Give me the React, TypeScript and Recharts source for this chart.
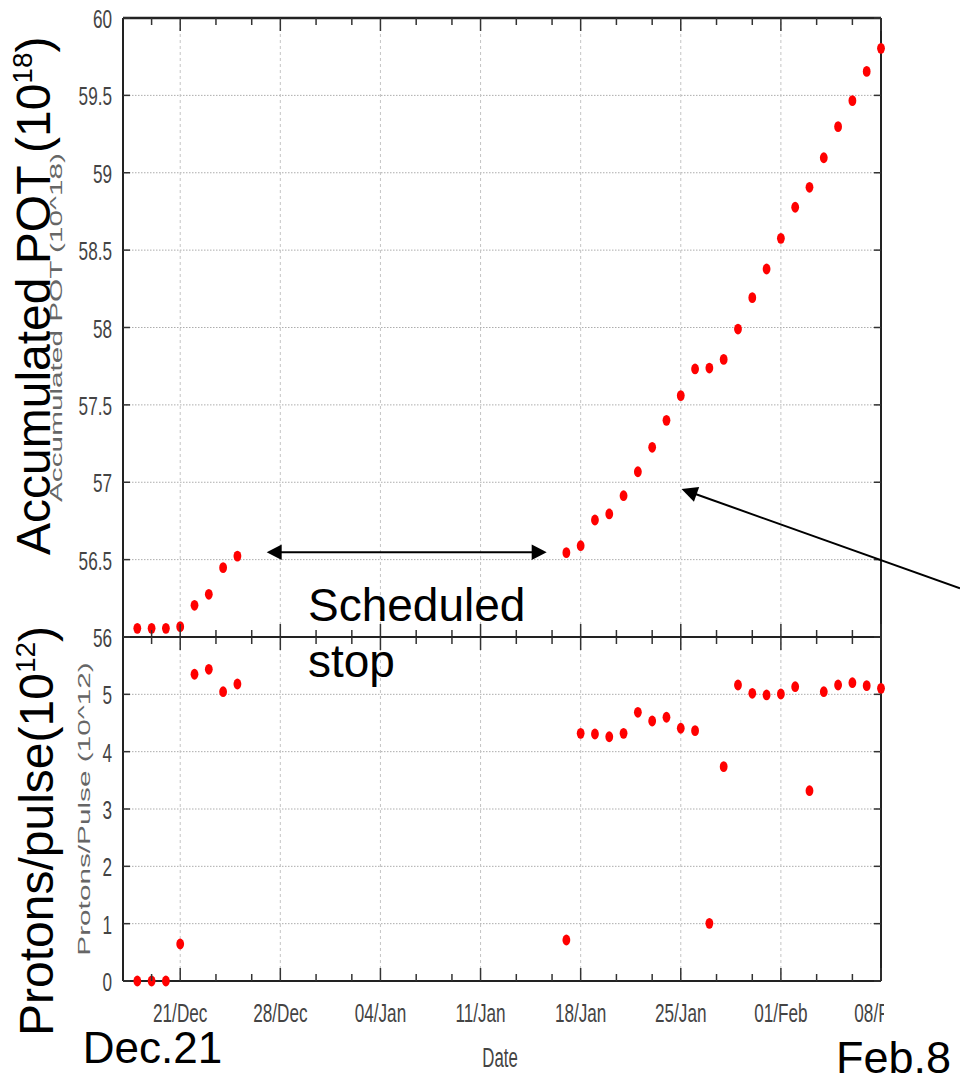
import React from 'react';
import { ScatterChart, Scatter, XAxis, YAxis, CartesianGrid, ReferenceLine } from 'recharts';

// days since 21 Dec
const dayOffsets = [-3, -2, -1, 0, 1, 2, 3, 4, 27, 28, 29, 30, 31, 32, 33, 34, 35, 36, 37, 38, 39, 40, 41, 42, 43, 44, 45, 46, 47, 48, 49];
// Accumulated POT (10^18)
const accumulatedPot = [56.056, 56.056, 56.056, 56.067, 56.205, 56.276, 56.448, 56.523, 56.545, 56.59, 56.756, 56.795, 56.913, 57.068, 57.226, 57.4, 57.56, 57.732, 57.738, 57.794, 57.99, 58.193, 58.378, 58.576, 58.777, 58.906, 59.097, 59.298, 59.466, 59.655, 59.804];
// Protons/pulse (10^12)
const protonsPerPulse = [0, 0, 0, 0.645, 5.35, 5.437, 5.046, 5.18, 0.715, 4.32, 4.308, 4.26, 4.32, 4.687, 4.535, 4.6, 4.408, 4.366, 1.006, 3.738, 5.163, 5.018, 4.989, 5.006, 5.133, 3.319, 5.046, 5.163, 5.203, 5.151, 5.105];

const xMajorTicks = [0, 7, 14, 21, 28, 35, 42, 49];
const xMinorTicks = [-2, 2.5, 5, 9.5, 12, 16.5, 19, 23.5, 26, 30.5, 33, 37.5, 40, 44.5, 47];
const xTickLabels = ['21/Dec', '28/Dec', '04/Jan', '11/Jan', '18/Jan', '25/Jan', '01/Feb', '08/Feb'];
const potTicks = [56, 56.5, 57, 57.5, 58, 58.5, 59, 59.5, 60];
const potTickLabels = ['56', '56.5', '57', '57.5', '58', '58.5', '59', '59.5', '60'];
const pppTicks = [0, 1, 2, 3, 4, 5, 6];
const pppTickLabels = ['0', '1', '2', '3', '4', '5', ''];

const X_DOMAIN: [number, number] = [-4, 49];

// layout
const PLOT_LEFT = 123;
const PLOT_RIGHT = 881;
const PLOT_W = PLOT_RIGHT - PLOT_LEFT;
const TOP_Y = 18;
const MID_Y = 637;
const BOT_Y = 981;
const Y_AXIS_W = 60;
const X_AXIS_H = 30;
const TOP_PANEL_H = MID_Y - TOP_Y;
const BOT_PANEL_H = BOT_Y - MID_Y;
const TICK_FONT = "'Liberation Sans', Arial, sans-serif";
const FRAME = '#222';
const TICK_COLOR = '#333';
const LABEL_COLOR = '#444';

const allXTicks = [...xMajorTicks, ...xMinorTicks].sort((a, b) => a - b);

const potData = dayOffsets.map((d, i) => ({ day: d, value: accumulatedPot[i] }));
const pppData = dayOffsets.map((d, i) => ({ day: d, value: protonsPerPulse[i] }));

const RedDot = (props: any) => {
  if (props.cx == null || props.cy == null) return null;
  return <ellipse cx={props.cx} cy={props.cy} rx={3.9} ry={5.4} fill="#ff0000" />;
};

const makeXTick = (panelH: number, showLabel: boolean) => (props: any) => {
  const { x, y, payload } = props;
  const v = payload.value;
  const idx = xMajorTicks.indexOf(v);
  const major = idx >= 0;
  const len = major ? 13 : 7;
  return (
    <g>
      <line x1={x} x2={x} y1={y} y2={y - len} stroke={TICK_COLOR} strokeWidth={1.5} />
      <line x1={x} x2={x} y1={y - panelH} y2={y - panelH + len} stroke={TICK_COLOR} strokeWidth={1.5} />
      {showLabel && major ? (
        <text
          transform={`translate(${x},${y + 40.5}) scale(0.66,1)`}
          textAnchor="middle"
          fontSize={26}
          fontFamily={TICK_FONT}
          fill={LABEL_COLOR}
        >
          {xTickLabels[idx]}
        </text>
      ) : null}
    </g>
  );
};

const makeYTick = (ticks: number[], labels: string[]) => (props: any) => {
  const { x, y, payload } = props;
  const idx = ticks.indexOf(payload.value);
  return (
    <g>
      <line x1={x} x2={x + 7} y1={y} y2={y} stroke={TICK_COLOR} strokeWidth={1.5} />
      <line x1={x + PLOT_W - 7} x2={x + PLOT_W} y1={y} y2={y} stroke={TICK_COLOR} strokeWidth={1.5} />
      <text
        transform={`translate(${x - 11},${y + 10}) scale(0.66,1)`}
        textAnchor="end"
        fontSize={26}
        fontFamily={TICK_FONT}
        fill={LABEL_COLOR}
      >
        {labels[idx]}
      </text>
    </g>
  );
};

const arrowHead = (tipX: number, tipY: number, fromX: number, fromY: number, len: number, half: number) => {
  const dx = fromX - tipX;
  const dy = fromY - tipY;
  const d = Math.sqrt(dx * dx + dy * dy);
  const ux = dx / d;
  const uy = dy / d;
  const bx = tipX + ux * len;
  const by = tipY + uy * len;
  const px = -uy * half;
  const py = ux * half;
  return `${tipX},${tipY} ${bx + px},${by + py} ${bx - px},${by - py}`;
};

const verticalGrid = (keyPrefix: string) =>
  xMajorTicks
    .filter((d) => d > X_DOMAIN[0] && d < X_DOMAIN[1])
    .map((d) => (
      <ReferenceLine key={`${keyPrefix}${d}`} x={d} stroke="#c4c4c4" strokeDasharray="3 3" strokeWidth={1} />
    ));

export default function App() {
  const bigFont = "'Liberation Sans', Arial, sans-serif";
  return (
    <div style={{ position: 'absolute', left: 0, top: 0, width: 960, height: 1078, background: '#fff' }}>
      <div style={{ position: 'absolute', left: 0, top: 0 }}>
        <ScatterChart
          width={960}
          height={700}
          margin={{ top: TOP_Y, right: 960 - PLOT_RIGHT, bottom: 700 - MID_Y - X_AXIS_H, left: PLOT_LEFT - Y_AXIS_W }}
        >
          <CartesianGrid vertical={false} stroke="#adadad" strokeDasharray="1.5 1.5" />
          {verticalGrid('t')}
          <XAxis
            type="number"
            dataKey="day"
            domain={X_DOMAIN}
            ticks={allXTicks}
            interval={0}
            height={X_AXIS_H}
            tickSize={0}
            tickMargin={0}
            tickLine={false}
            axisLine={{ stroke: FRAME, strokeWidth: 2 }}
            tick={makeXTick(TOP_PANEL_H, false)}
          />
          <YAxis
            type="number"
            dataKey="value"
            domain={[56, 60]}
            ticks={potTicks}
            interval={0}
            width={Y_AXIS_W}
            tickSize={0}
            tickMargin={0}
            tickLine={false}
            axisLine={{ stroke: FRAME, strokeWidth: 2 }}
            tick={makeYTick(potTicks, potTickLabels)}
          />
          <ReferenceLine y={60} stroke={FRAME} strokeWidth={2.5} />
          <ReferenceLine x={49} stroke={FRAME} strokeWidth={2} />
          <Scatter data={potData} shape={RedDot} isAnimationActive={false} />
        </ScatterChart>
      </div>
      <div style={{ position: 'absolute', left: 0, top: 0 }}>
        <ScatterChart
          width={960}
          height={1078}
          margin={{ top: MID_Y, right: 960 - PLOT_RIGHT, bottom: 1078 - BOT_Y - X_AXIS_H, left: PLOT_LEFT - Y_AXIS_W }}
        >
          <CartesianGrid vertical={false} stroke="#adadad" strokeDasharray="1.5 1.5" />
          {verticalGrid('b')}
          <XAxis
            type="number"
            dataKey="day"
            domain={X_DOMAIN}
            ticks={allXTicks}
            interval={0}
            height={X_AXIS_H}
            tickSize={0}
            tickMargin={0}
            tickLine={false}
            axisLine={{ stroke: FRAME, strokeWidth: 2 }}
            tick={makeXTick(BOT_PANEL_H, true)}
          />
          <YAxis
            type="number"
            dataKey="value"
            domain={[0, 6]}
            ticks={pppTicks}
            interval={0}
            width={Y_AXIS_W}
            tickSize={0}
            tickMargin={0}
            tickLine={false}
            axisLine={{ stroke: FRAME, strokeWidth: 2 }}
            tick={makeYTick(pppTicks, pppTickLabels)}
          />
          <ReferenceLine y={6} stroke={FRAME} strokeWidth={2} />
          <ReferenceLine x={49} stroke={FRAME} strokeWidth={2} />
          <Scatter data={pppData} shape={RedDot} isAnimationActive={false} />
        </ScatterChart>
      </div>
      <svg
        width={960}
        height={1078}
        style={{ position: 'absolute', left: 0, top: 0, pointerEvents: 'none' }}
      >
        {/* crop of the plot image at the right */}
        <rect x={884} y={990} width={76} height={40} fill="#fff" />
        {/* small gray axis titles of the original plot */}
        <text
          transform={`translate(62,${(TOP_Y + MID_Y) / 2}) rotate(-90) scale(1.75,1)`}
          textAnchor="middle"
          fontSize={17}
          fontFamily={TICK_FONT}
          fill="#666"
        >
          Accumulated POT (10^18)
        </text>
        <text
          transform={`translate(90,${(MID_Y + BOT_Y) / 2}) rotate(-90) scale(1.75,1)`}
          textAnchor="middle"
          fontSize={17}
          fontFamily={TICK_FONT}
          fill="#666"
        >
          Protons/Pulse (10^12)
        </text>
        <text
          transform="translate(500,1066.5) scale(0.6,1)"
          textAnchor="middle"
          fontSize={28}
          fontFamily={TICK_FONT}
          fill={LABEL_COLOR}
        >
          Date
        </text>
        {/* big slide annotations */}
        <text transform="translate(50,555) rotate(-90)" fontSize={48} fontFamily={bigFont} fill="#000">
          Accumulated POT (10
          <tspan fontSize={28} dy={-18}>18</tspan>
          <tspan dy={18}>)</tspan>
        </text>
        <text transform="translate(53,1036) rotate(-90)" fontSize={48} fontFamily={bigFont} fill="#000">
          Protons/pulse(10
          <tspan fontSize={28} dy={-18}>12</tspan>
          <tspan dy={18}>)</tspan>
        </text>
        <text x={82.7} y={1063} fontSize={44} fontFamily={bigFont} fill="#000">
          Dec.21
        </text>
        <text x={836} y={1073} fontSize={45} fontFamily={bigFont} fill="#000">
          Feb.8
        </text>
        <text x={308} y={621} fontSize={46} fontFamily={bigFont} fill="#000">
          Scheduled
        </text>
        <text x={308} y={677} fontSize={46} fontFamily={bigFont} fill="#000">
          stop
        </text>
        {/* double arrow */}
        <line x1={280} y1={552.3} x2={533} y2={552.3} stroke="#000" strokeWidth={2} />
        <polygon points={arrowHead(266.7, 552.3, 546.7, 552.3, 15, 7.8)} fill="#000" />
        <polygon points={arrowHead(546.7, 552.3, 266.7, 552.3, 15, 7.8)} fill="#000" />
        {/* pointer arrow */}
        <line x1={960} y1={588.3} x2={694} y2={493.5} stroke="#000" strokeWidth={2} />
        <polygon points={arrowHead(681.5, 489, 960, 588.3, 16, 7.8)} fill="#000" />
      </svg>
    </div>
  );
}
